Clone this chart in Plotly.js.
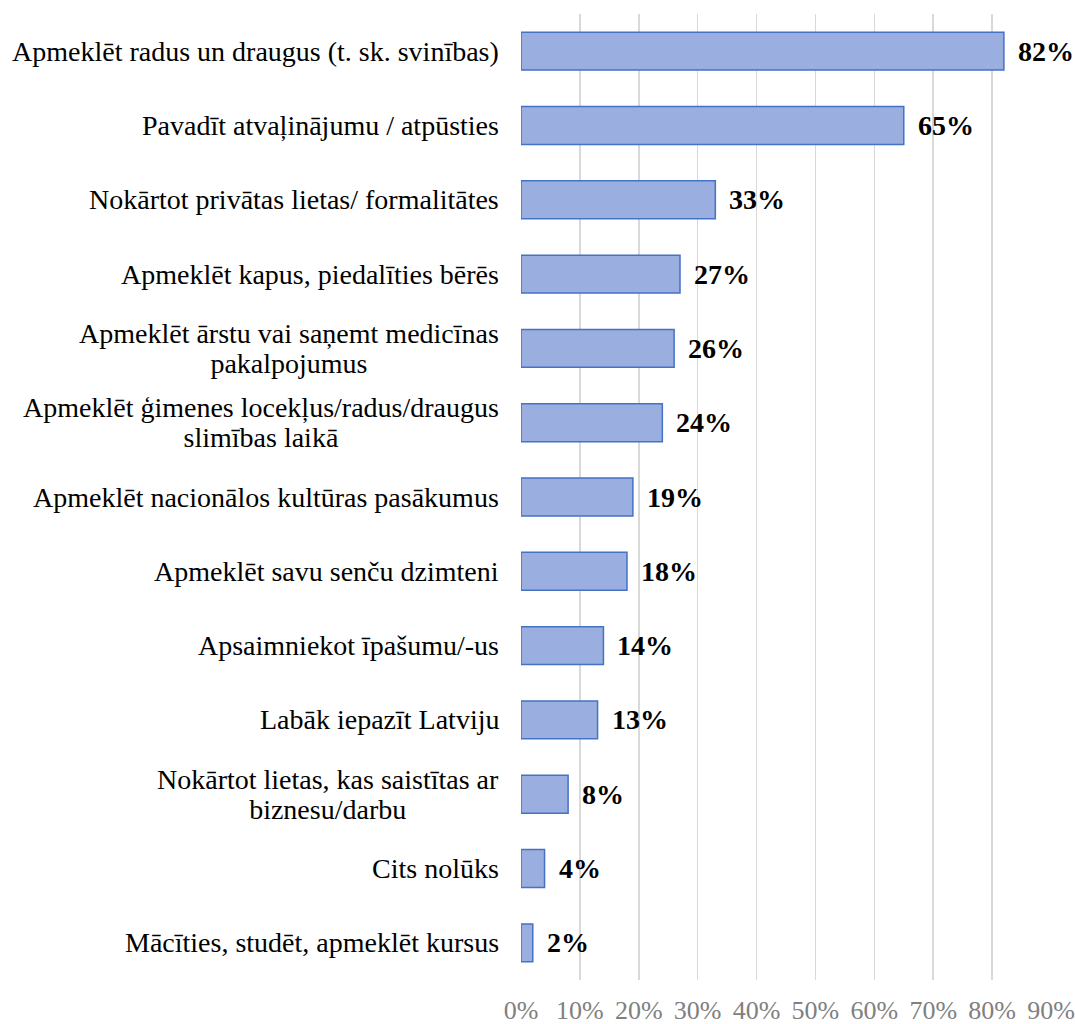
<!DOCTYPE html>
<html>
<head>
<meta charset="utf-8">
<script src="https://cdn.plot.ly/plotly-3.0.1.min.js"></script>
<style>html,body{margin:0;padding:0;background:#fff;}#chart{width:1075px;height:1024px;}</style>
</head>
<body>
<div id="chart"></div>
<script>
const categories = [
  "Apmeklēt radus un draugus (t. sk. svinības)",
  "Pavadīt atvaļinājumu / atpūsties",
  "Nokārtot privātas lietas/ formalitātes",
  "Apmeklēt kapus, piedalīties bērēs",
  "Apmeklēt ārstu vai saņemt medicīnas<br>pakalpojumus",
  "Apmeklēt ģimenes locekļus/radus/draugus<br>slimības laikā",
  "Apmeklēt nacionālos kultūras pasākumus",
  "Apmeklēt savu senču dzimteni",
  "Apsaimniekot īpašumu/-us",
  "Labāk iepazīt Latviju",
  "Nokārtot lietas, kas saistītas ar<br>biznesu/darbu",
  "Cits nolūks",
  "Mācīties, studēt, apmeklēt kursus"
];
const values = [82, 65, 33, 27, 26, 24, 19, 18, 14, 13, 8, 4, 2];
const tickValues = [0, 10, 20, 30, 40, 50, 60, 70, 80, 90];
const tickLabels = ["0%", "10%", "20%", "30%", "40%", "50%", "60%", "70%", "80%", "90%"];

const serif = "Liberation Serif, Times New Roman, serif";

const trace = {
  type: "bar",
  orientation: "h",
  x: values,
  y: categories,
  marker: { color: "#9aaee0", line: { color: "#4472c4", width: 1.5 } },
  hoverinfo: "none"
};

function bigLines(s) {
  return s.split("<br>").map(l => "<span style='font-size:28px'>" + l + "</span>").join("<br>");
}

const annotations = [];
categories.forEach((c, i) => {
  annotations.push({
    xref: "paper", yref: "y", x: 0, y: c,
    text: bigLines(c), showarrow: false, xanchor: "right", yanchor: "middle",
    align: "center", xshift: -20,
    font: { family: serif, size: 23, color: "#000" }
  });
  annotations.push({
    xref: "x", yref: "y", x: values[i], y: c,
    text: "<b>" + values[i] + "%</b>", showarrow: false, xanchor: "left", yanchor: "middle",
    xshift: 12,
    font: { family: serif, size: 28, color: "#000" }
  });
});

const layout = {
  width: 1075, height: 1024,
  margin: { l: 521, r: 24, t: 14, b: 44 },
  paper_bgcolor: "#fff", plot_bgcolor: "#fff",
  showlegend: false,
  bargap: 0.49,
  xaxis: {
    range: [0, 90],
    tickvals: tickValues, ticktext: tickLabels,
    showgrid: true, gridcolor: "#d9d9d9", gridwidth: 1.5,
    zeroline: false, showline: false,
    tickfont: { family: serif, size: 26, color: "#808080" },
    ticks: "", ticklen: 0, ticklabelstandoff: 12
  },
  yaxis: {
    autorange: "reversed",
    showticklabels: false, showgrid: false, zeroline: false, showline: false, ticks: ""
  },
  annotations: annotations
};

Plotly.newPlot("chart", [trace], layout, { displayModeBar: false, staticPlot: true });
</script>
</body>
</html>
